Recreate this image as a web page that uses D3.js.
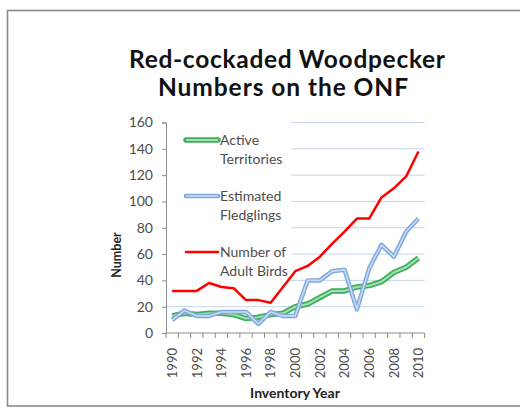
<!DOCTYPE html>
<html>
<head>
<meta charset="utf-8">
<script src="https://cdn.jsdelivr.net/npm/d3@7/dist/d3.min.js"></script>
<style>
  html, body { margin: 0; padding: 0; background: #fff; }
  svg { display: block; }
  text { font-family: Lato, "Open Sans", sans-serif; }
</style>
</head>
<body>
<svg id="chart" width="520" height="408"></svg>
<script>
// Inventory years on the ONF
const years = d3.range(1990, 2011);
const activeTerritories = [13, 15, 14, 15, 15, 14, 11, 12, 14, 15, 20, 22, 27, 32, 32, 35, 36, 39, 46, 50, 57];
const estimatedFledglings = [10, 17, 13, 13, 16, 16, 16, 7, 16, 13, 13, 40, 40, 47, 48, 18, 49, 67, 58, 77, 87];
const adultBirds = [32, 32, 32, 38, 35, 34, 25, 25, 23, 35, 47, 51, 58, 68, 77, 87, 87, 103, 110, 119, 138];
const yTicks = [0, 20, 40, 60, 80, 100, 120, 140, 160];
const xTickLabels = years.filter(y => y % 2 === 0);

const svg = d3.select("#chart");

// chart frame
svg.append("rect")
  .attr("x", 7.5).attr("y", 10.5)
  .attr("width", 540).attr("height", 395.5)
  .attr("fill", "#fff")
  .attr("stroke", "#8a8a8a").attr("stroke-width", 1.6);

// title
const title = svg.append("text")
  .attr("text-anchor", "middle")
  .attr("font-weight", "bold")
  .attr("font-size", 24.5)
  .attr("fill", "#111");
title.append("tspan").attr("x", 287).attr("y", 68)
  .attr("textLength", 316).attr("lengthAdjust", "spacing")
  .text("Red-cockaded Woodpecker");
title.append("tspan").attr("x", 283).attr("y", 96)
  .attr("textLength", 250).attr("lengthAdjust", "spacing")
  .text("Numbers on the ONF");

const plot = { left: 166, right: 424.6, top: 122.5, bottom: 333 };

const x = d3.scaleBand().domain(years).range([plot.left, plot.right]);
const y = d3.scaleLinear().domain([0, 160]).range([plot.bottom, plot.top]);
const cx = d => x(d) + x.bandwidth() / 2;

// horizontal gridlines
svg.append("g")
  .selectAll("line")
  .data(yTicks.filter(v => v > 0))
  .join("line")
  .attr("x1", plot.left).attr("x2", plot.right)
  .attr("y1", d => y(d)).attr("y2", d => y(d))
  .attr("stroke", "#c3d4ec").attr("stroke-width", 1);

// y axis
const yAxis = svg.append("g")
  .attr("transform", `translate(${plot.left},0)`)
  .call(d3.axisLeft(y).tickValues(yTicks).tickSize(4).tickPadding(9));
yAxis.select(".domain").attr("stroke", "#8c8c8c");
yAxis.selectAll(".tick line").attr("stroke", "#8c8c8c");
yAxis.selectAll(".tick text")
  .attr("font-size", 14).attr("fill", "#4d4d4d")
  .attr("font-family", "Lato, 'Open Sans', sans-serif");

// x axis: ticks sit between categories, labels every other year
const xAxis = svg.append("g")
  .attr("transform", `translate(0,${plot.bottom})`);
xAxis.append("line")
  .attr("x1", plot.left).attr("x2", plot.right)
  .attr("stroke", "#8c8c8c");
xAxis.selectAll("line.tk")
  .data(years.concat([null]))
  .join("line")
  .attr("class", "tk")
  .attr("x1", (d, i) => plot.left + i * x.step())
  .attr("x2", (d, i) => plot.left + i * x.step())
  .attr("y1", 0).attr("y2", 5)
  .attr("stroke", "#8c8c8c");
xAxis.selectAll("text")
  .data(xTickLabels)
  .join("text")
  .attr("transform", d => `translate(${cx(d) + 4.8},${15}) rotate(-90)`)
  .attr("text-anchor", "end")
  .attr("font-size", 13).attr("fill", "#4d4d4d")
  .text(d => d);

// axis titles
svg.append("text")
  .attr("transform", "translate(121,255) rotate(-90)")
  .attr("text-anchor", "middle")
  .attr("font-weight", "bold").attr("font-size", 12.5).attr("fill", "#222")
  .text("Number");
svg.append("text")
  .attr("x", 295).attr("y", 398)
  .attr("text-anchor", "middle")
  .attr("font-weight", "bold").attr("font-size", 14).attr("fill", "#222")
  .text("Inventory Year");

// legend box (white background over the gridlines)
svg.append("rect")
  .attr("x", plot.left + 1).attr("y", 118)
  .attr("width", 124).attr("height", 164)
  .attr("fill", "#fff");

const line = d3.line().x((d, i) => cx(years[i])).y(d => y(d));

// Active Territories: green band with lighter core
svg.append("path").datum(activeTerritories)
  .attr("d", line).attr("fill", "none")
  .attr("stroke", "#3daf5c").attr("stroke-width", 5.5).attr("stroke-linejoin", "round");
svg.append("path").datum(activeTerritories)
  .attr("d", line).attr("fill", "none")
  .attr("stroke", "#a4e0b1").attr("stroke-width", 2).attr("stroke-linejoin", "round");

// Estimated Fledglings: blue band with pale core
svg.append("path").datum(estimatedFledglings)
  .attr("d", line).attr("fill", "none")
  .attr("stroke", "#7ea8dc").attr("stroke-width", 4.5).attr("stroke-linejoin", "round");
svg.append("path").datum(estimatedFledglings)
  .attr("d", line).attr("fill", "none")
  .attr("stroke", "#c9dbf2").attr("stroke-width", 1.6).attr("stroke-linejoin", "round");

// Number of Adult Birds
svg.append("path").datum(adultBirds)
  .attr("d", line).attr("fill", "none")
  .attr("stroke", "#ff0000").attr("stroke-width", 2.5).attr("stroke-linejoin", "round");

// legend
const legend = [
  { lines: ["Active", "Territories"], y: 140, outer: "#3daf5c", ow: 5.5, inner: "#a4e0b1", iw: 2 },
  { lines: ["Estimated", "Fledglings"], y: 196, outer: "#7ea8dc", ow: 4.5, inner: "#c9dbf2", iw: 1.6 },
  { lines: ["Number of", "Adult Birds"], y: 252, outer: "#ff0000", ow: 2.5, inner: null, iw: 0 }
];
const lg = svg.append("g").selectAll("g").data(legend).join("g");
lg.append("line")
  .attr("x1", 186).attr("x2", 218)
  .attr("y1", d => d.y).attr("y2", d => d.y)
  .attr("stroke", d => d.outer).attr("stroke-width", d => d.ow).attr("stroke-linecap", "round");
lg.filter(d => d.inner).append("line")
  .attr("x1", 186).attr("x2", 218)
  .attr("y1", d => d.y).attr("y2", d => d.y)
  .attr("stroke", d => d.inner).attr("stroke-width", d => d.iw);
lg.append("text")
  .attr("x", 220)
  .attr("font-size", 14).attr("fill", "#4d4d4d")
  .selectAll("tspan")
  .data(d => d.lines.map((t, i) => ({ t, y: d.y + 5 + i * 18.5 })))
  .join("tspan")
  .attr("x", 220).attr("y", d => d.y)
  .text(d => d.t);
</script>
</body>
</html>
